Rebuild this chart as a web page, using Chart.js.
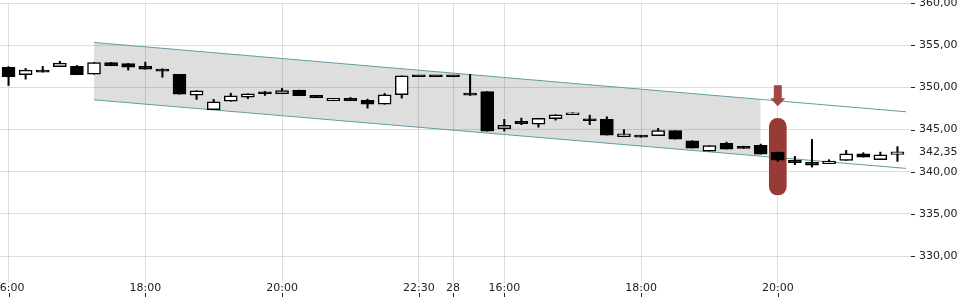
<!DOCTYPE html>
<html>
<head>
<meta charset="utf-8">
<script src="https://cdn.jsdelivr.net/npm/chart.js@4.4.1/dist/chart.umd.min.js"></script>
<style>
  body{margin:0;background:#fff}
</style>
</head>
<body>
<canvas id="myChart" width="960" height="300"></canvas>
<script>
// 15 min candles, index on x
const opens  = [352.36,351.50,352.06,352.44,352.48,351.56,352.95,352.83,352.48,352.16,
                351.53,349.08,347.35,348.36,348.84,349.24,349.24,349.67,349.04,348.41,
                348.69,348.45,348.00,349.12,351.26,351.26,351.26,349.30,349.51,345.09,
                345.96,345.64,346.28,346.75,346.23,346.20,344.15,344.30,344.27,344.86,
                343.67,342.44,343.35,342.88,343.12,342.32,341.34,341.10,340.95,341.34,
                342.13,341.42,342.05]
const highs  = [352.45,352.24,352.48,353.10,352.60,352.95,352.95,352.83,352.99,352.20,
                351.53,349.60,348.57,349.31,349.24,349.51,349.87,349.67,349.04,348.69,
                348.80,348.60,349.28,351.37,351.26,351.26,351.26,351.53,349.51,346.20,
                346.35,346.32,346.75,346.99,346.71,346.51,344.98,344.30,345.13,344.86,
                343.67,343.08,343.51,343.03,343.27,342.32,341.81,343.83,341.42,342.52,
                342.25,342.32,342.97]
const lows   = [350.22,350.97,351.80,352.44,351.49,351.56,352.56,352.04,352.16,351.20,
                349.19,348.57,347.35,348.36,348.65,349.04,349.24,349.00,348.77,348.41,
                348.41,347.54,348.00,348.72,351.26,351.26,351.26,349.04,344.81,344.81,
                345.57,345.28,346.11,346.75,345.57,344.34,344.15,344.10,344.27,343.86,
                342.80,342.44,342.68,342.76,342.09,341.22,340.83,340.55,340.95,341.34,
                341.73,341.42,341.22]
const closes = [351.26,352.04,351.80,352.87,351.49,352.95,352.56,352.39,352.16,351.92,
                349.19,349.60,348.29,349.00,349.24,349.24,349.63,349.00,348.77,348.69,
                348.41,348.00,349.12,351.37,351.26,351.26,351.26,349.08,344.81,345.49,
                345.69,346.32,346.75,346.99,346.04,344.34,344.50,344.10,344.86,343.86,
                342.80,343.08,342.68,342.76,342.09,341.37,341.07,340.78,341.26,342.13,
                341.73,342.01,342.35]

const xTickPos    = [0, 8, 16, 24, 26, 29, 37, 45]
const xTickLabels = ['16:00','18:00','20:00','22:30','28','16:00','18:00','20:00']
const yTickValues = [330, 335, 340, 342.35, 345, 350, 355, 360]
const lastPrice = 342.35

const channelX     = [5, 44, 52.5]
const channelUpper = [355.32, 348.57, 347.10]
const channelLower = [348.52, 341.84, 340.39]

const markerIndex = 45
const markerRange = [337.23, 346.32]
const arrowRange  = [347.77, 350.26]

const gridCol = 'rgba(0,0,0,0.13)'
const teal = '#5f9ea0'
const red = '#983a35'

const toPts = (xs, ys) => xs.map((v, i) => ({x: v, y: ys[i]}))

const extras = {
  id: 'extras',
  afterDatasetsDraw(chart) {
    const {ctx, scales: {x, y}} = chart
    const cx = x.getPixelForValue(markerIndex)
    const top = y.getPixelForValue(arrowRange[1])
    const tip = y.getPixelForValue(arrowRange[0])
    ctx.save()
    ctx.fillStyle = 'rgba(152,58,53,0.92)'
    ctx.beginPath()
    ctx.moveTo(cx - 4, top)
    ctx.lineTo(cx + 4, top)
    ctx.lineTo(cx + 4, tip - 8)
    ctx.lineTo(cx + 7.5, tip - 8)
    ctx.lineTo(cx, tip)
    ctx.lineTo(cx - 7.5, tip - 8)
    ctx.lineTo(cx - 4, tip - 8)
    ctx.closePath()
    ctx.fill()
    ctx.restore()
  },
  afterDraw(chart) {
    const {ctx, chartArea, scales: {x, y}} = chart
    ctx.save()
    ctx.strokeStyle = '#222'
    ctx.lineWidth = 1
    ctx.beginPath()
    xTickPos.forEach(p => {
      const px = Math.round(x.getPixelForValue(p)) + 0.5
      ctx.moveTo(px, 293)
      ctx.lineTo(px, 297)
    })
    yTickValues.forEach(v => {
      if (v === lastPrice) return
      const py = Math.round(y.getPixelForValue(v)) + 0.5
      ctx.moveTo(chartArea.right + 5, py)
      ctx.lineTo(chartArea.right + 9, py)
    })
    ctx.stroke()
    ctx.restore()
  }
}

new Chart('myChart', {
  type: 'bar',
  data: {
    datasets: [
      {
        type: 'line',
        data: toPts(channelX.slice(0, 2), channelUpper.slice(0, 2)),
        borderWidth: 0,
        pointRadius: 0,
        fill: false,
        order: 12
      },
      {
        type: 'line',
        data: toPts(channelX.slice(0, 2), channelLower.slice(0, 2)),
        borderWidth: 0,
        pointRadius: 0,
        fill: '-1',
        backgroundColor: gridCol,
        order: 11
      },
      {
        type: 'line',
        data: toPts(channelX, channelUpper),
        borderColor: teal,
        borderWidth: 1,
        pointRadius: 0,
        fill: false,
        order: 8
      },
      {
        type: 'line',
        data: toPts(channelX, channelLower),
        borderColor: teal,
        borderWidth: 1,
        pointRadius: 0,
        fill: false,
        order: 8
      },
      {
        data: [{x: markerIndex, y: markerRange}],
        backgroundColor: red,
        barThickness: 17,
        borderRadius: 8.5,
        borderSkipped: false,
        grouped: false,
        order: 6
      },
      {
        data: lows.map((l, i) => ({x: i, y: [l, highs[i]]})),
        backgroundColor: '#000',
        barThickness: 1.4,
        grouped: false,
        order: 4
      },
      {
        data: opens.map((o, i) => ({x: i, y: [o, closes[i]]})),
        backgroundColor: opens.map((o, i) => closes[i] > o ? '#fff' : '#000'),
        borderColor: '#000',
        borderWidth: 1.5,
        borderSkipped: false,
        barThickness: 13,
        minBarLength: 2,
        grouped: false,
        order: 2
      }
    ]
  },
  options: {
    responsive: false,
    animation: false,
    events: [],
    layout: { padding: { top: 3, left: 0, right: 0, bottom: 0 } },
    plugins: {
      legend: { display: false },
      tooltip: { enabled: false }
    },
    scales: {
      x: {
        type: 'linear',
        min: -0.5,
        max: 52.5,
        offset: false,
        border: { display: false },
        grid: { color: gridCol, offset: false, drawTicks: false },
        afterBuildTicks: s => { s.ticks = xTickPos.map(v => ({value: v})) },
        afterFit: s => { s.height = 17; s.paddingLeft = 0; s.paddingRight = 0 },
        ticks: {
          autoSkip: false,
          maxRotation: 0,
          padding: -1,
          color: '#222',
          font: { family: 'DejaVu Sans', size: 11 },
          callback: v => xTickLabels[xTickPos.indexOf(v)]
        }
      },
      y: {
        type: 'linear',
        position: 'right',
        min: 326.8,
        max: 360,
        beginAtZero: false,
        border: { display: false },
        grid: {
          color: c => c.tick && c.tick.value === lastPrice ? 'transparent' : gridCol,
          tickColor: c => c.tick && c.tick.value === lastPrice ? 'transparent' : gridCol,
          tickLength: 5
        },
        afterBuildTicks: s => { s.ticks = yTickValues.map(v => ({value: v})) },
        afterFit: s => { s.width = 54; s.paddingTop = 0; s.paddingBottom = 0 },
        ticks: {
          autoSkip: false,
          padding: 8,
          color: '#222',
          font: { family: 'DejaVu Sans', size: 11 },
          callback: v => v.toFixed(2).replace('.', ',')
        }
      }
    }
  },
  plugins: [extras]
})
</script>
</body>
</html>
